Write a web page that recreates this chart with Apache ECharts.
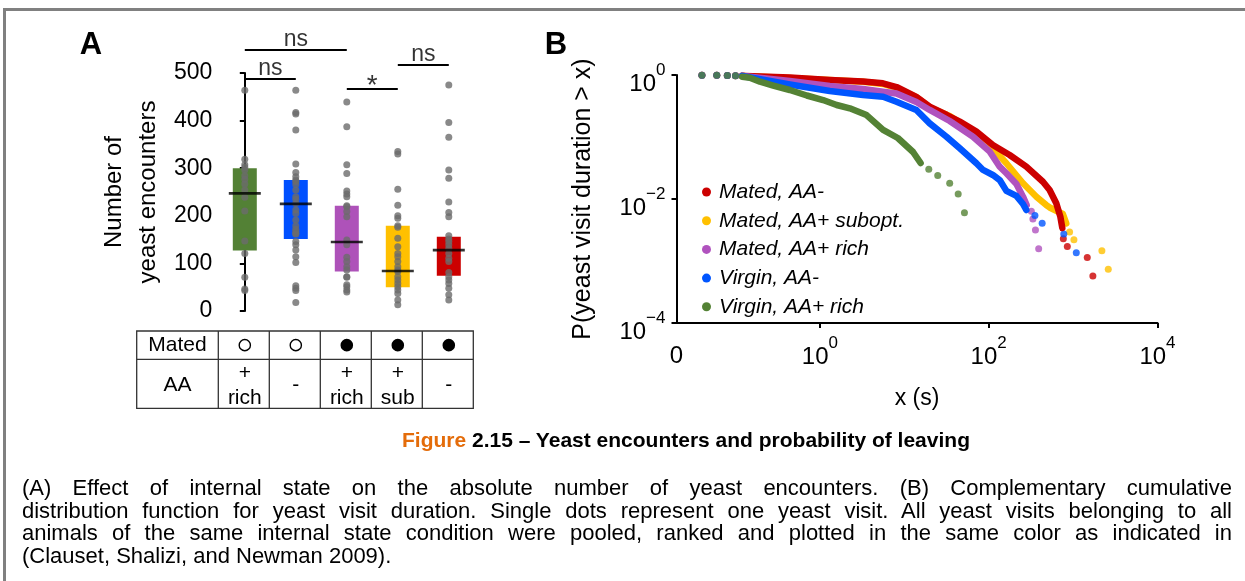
<!DOCTYPE html>
<html><head><meta charset="utf-8">
<script src="https://cdn.jsdelivr.net/npm/echarts@6/dist/echarts.min.js"></script>
<style>
html,body{margin:0;padding:0;background:#fff;}
body{width:1245px;height:581px;position:relative;overflow:hidden;font-family:"Liberation Sans",Arial,sans-serif;}
#frame{position:absolute;left:3px;top:8px;right:0;bottom:0;border-top:3px solid #808080;border-left:3px solid #808080;pointer-events:none;}
#chart{position:absolute;left:0;top:0;width:1245px;height:581px;}
#title{position:absolute;left:386px;width:600px;top:428px;text-align:center;font-weight:bold;font-size:21px;line-height:24px;color:#000;}
#title .fig{color:#E46C0A;}
#body{position:absolute;left:22px;top:477px;width:1210px;font-size:22px;line-height:22.6px;color:#000;}
#body div{text-align:justify;text-align-last:justify;}
#body div.last{text-align-last:left;}
</style></head>
<body>
<div id="chart"></div>
<div id="frame"></div>
<div id="title"><span class="fig">Figure</span> 2.15 – Yeast encounters and probability of leaving</div>
<div id="body">
<div>(A) Effect of internal state on the absolute number of yeast encounters. (B) Complementary cumulative</div>
<div>distribution function for yeast visit duration. Single dots represent one yeast visit. All yeast visits belonging to all</div>
<div>animals of the same internal state condition were pooled, ranked and plotted in the same color as indicated in</div>
<div class="last">(Clauset, Shalizi, and Newman 2009).</div>
</div>
<script>
// ---------- Panel A data ----------
const groups = ['Virgin, AA+ rich', 'Virgin, AA-', 'Mated, AA+ rich', 'Mated, AA+ subopt.', 'Mated, AA-'];
const boxLow = [127, 151, 83, 50, 74];
const boxHigh = [300, 275, 221, 179, 156];
const medians = [247, 225, 145, 84, 128];
const dotsVirginRich = [464, 319, 307, 302, 296, 284, 277, 267, 254, 239, 210, 147, 121, 71, 46, 43];
const dotsVirginMinus = [464, 417, 414, 380, 309, 291, 282, 275, 272, 266, 254, 240, 235, 226, 212, 205, 191, 179, 172, 167, 163, 162, 146, 139, 128, 114, 102, 53, 48, 43, 18];
const dotsMatedRich = [439, 387, 307, 289, 252, 246, 240, 221, 219, 209, 198, 149, 139, 113, 104, 93, 86, 72, 71, 55, 51, 44, 40];
const dotsMatedSub = [335, 330, 256, 222, 200, 195, 179, 176, 153, 135, 121, 114, 104, 93, 86, 83, 72, 65, 58, 51, 44, 37, 23, 13];
const dotsMatedMinus = [475, 396, 365, 296, 279, 229, 207, 198, 158, 151, 146, 139, 132, 121, 111, 104, 81, 72, 65, 58, 48, 34, 23];
const yTicksAInterval = 100;
const bracketFrom = [0, 0, 2, 3];
const bracketTo = [2, 1, 3, 4];
const bracketLevel = [548, 487, 466, 517];
const bracketText = ['ns', 'ns', '*', 'ns'];
const matedRow = [false, false, true, true, true];
const aaRow = ['+\nrich', '-', '+\nrich', '+\nsub', '-'];

// ---------- Panel B data (x in seconds, P = P(duration > x)) ----------
const headX = [0.04, 0.06, 0.08, 0.10];
const headP = [0.994, 0.988, 0.982, 0.976];

const redX = [0.12, 0.13, 0.44, 1.31, 3.25, 5.57, 8.08, 13.9, 20, 32, 45.4, 71.5, 112, 177, 279, 439, 527, 632, 706, 745];
const redP = [0.97, 0.965, 0.911, 0.83, 0.785, 0.735, 0.64, 0.442, 0.308, 0.226, 0.177, 0.122, 0.0743, 0.0513, 0.0332, 0.019, 0.014, 0.00853, 0.00519, 0.0034];
const redTailX = [766, 854, 1472, 1715];
const redTailP = [0.00229, 0.00171, 0.00114, 0.000571];

const yellowX = [0.12, 0.13, 0.44, 1.31, 3.25, 5.57, 8.08, 13.9, 20, 34.5, 71.5, 111, 162, 255, 367, 481, 527, 757, 830];
const yellowP = [0.97, 0.963, 0.895, 0.83, 0.78, 0.716, 0.62, 0.44, 0.3, 0.218, 0.116, 0.0665, 0.0377, 0.0179, 0.0109, 0.008, 0.0073, 0.00573, 0.00405];
const yellowTailX = [909, 1023, 2193, 2610];
const yellowTailP = [0.00294, 0.0022, 0.00147, 0.000735];

const purpleX = [0.12, 0.13, 0.44, 1.31, 3.25, 5.61, 8.08, 13.9, 20, 34.5, 65.2, 103, 135, 162, 213, 255, 282];
const purpleP = [0.97, 0.955, 0.80, 0.665, 0.595, 0.538, 0.503, 0.367, 0.273, 0.181, 0.101, 0.058, 0.0332, 0.026, 0.0175, 0.0109, 0.008];
const purpleTailX = [320, 334, 358, 391];
const purpleTailP = [0.00632, 0.00474, 0.00316, 0.00158];

const blueX = [0.12, 0.13, 0.44, 1.31, 3.25, 5.61, 8.08, 13.9, 20, 31.6, 45.4, 71.5, 85.7, 112, 135, 162, 213, 255, 279];
const blueP = [0.97, 0.946, 0.703, 0.552, 0.476, 0.447, 0.371, 0.273, 0.166, 0.101, 0.0657, 0.0377, 0.0294, 0.0244, 0.0202, 0.0135, 0.0112, 0.0083, 0.00665];
const blueTailX = [353, 430, 776, 1091];
const blueTailP = [0.00544, 0.00408, 0.00272, 0.00136];

const greenX = [0.12, 0.148, 0.195, 0.28, 0.44, 0.70, 1.09, 1.58, 2.26, 3.57, 5.61, 8.38, 12.7, 15.6];
const greenP = [0.94, 0.905, 0.78, 0.677, 0.573, 0.467, 0.395, 0.328, 0.29, 0.226, 0.13, 0.0964, 0.0573, 0.0381];
const greenTailX = [19.5, 24.9, 34.5, 43.5, 51.6];
const greenTailP = [0.0303, 0.0239, 0.0179, 0.012, 0.00601];

const xTicksB = [1, 100, 10000];
const yTicksB = [1e-4, 1e-2, 1];
const xMinB = 0.02, xMaxB = 10000, yMinB = 1e-4, yMaxB = 1;

// ---------- styles / layout ----------
const FF = '"Liberation Sans", Arial, sans-serif';
const colA = ['#538135', '#0050FF', '#AE52B9', '#FFC000', '#CC0000'];
const DOT = '#6B6B6B';
const A_LEFT = 219.3, A_TOP = 73, A_W = 255, A_H = 238;
const catW = A_W / groups.length;
const B_LEFT = 676.5, B_TOP = 75, B_W = 481, B_H = 248;

const chart = echarts.init(document.getElementById('chart'), null, {renderer: 'canvas'});

const dotSets = [dotsVirginRich, dotsVirginMinus, dotsMatedRich, dotsMatedSub, dotsMatedMinus];
const dotData = [];
dotSets.forEach((arr, i) => arr.forEach(v => dotData.push([i, v])));

function zip(xs, ps) { return xs.map((x, i) => [x, ps[i]]); }

const bSeriesDef = [
  {name: 'Mated, AA+ subopt.', color: '#FFC000', x: yellowX, p: yellowP, tx: yellowTailX, tp: yellowTailP},
  {name: 'Mated, AA-', color: '#CC0000', x: redX, p: redP, tx: redTailX, tp: redTailP},
  {name: 'Mated, AA+ rich', color: '#B052BE', x: purpleX, p: purpleP, tx: purpleTailX, tp: purpleTailP},
  {name: 'Virgin, AA-', color: '#0055FF', x: blueX, p: blueP, tx: blueTailX, tp: blueTailP},
  {name: 'Virgin, AA+ rich', color: '#548235', x: greenX, p: greenP, tx: greenTailX, tp: greenTailP}
];

const bLines = bSeriesDef.map(d => ({
  type: 'line', name: d.name, xAxisIndex: 2, yAxisIndex: 1,
  data: zip(d.x, d.p), showSymbol: false, symbol: 'none', silent: true,
  color: d.color,
  lineStyle: {color: d.color, width: 6.5, cap: 'round', join: 'round'},
  animation: false
}));
const bDots = bSeriesDef.map(d => ({
  type: 'scatter', name: d.name, xAxisIndex: 2, yAxisIndex: 1,
  data: zip(headX, headP).concat(zip(d.tx, d.tp)),
  symbolSize: 7, itemStyle: {color: d.color}, color: d.color, silent: true, animation: false
}));

function powLabel(v) {
  if (v < 0.05 && v > 0.01) return '{z|0}';
  const e = Math.round(Math.log10(v));
  return '{b|10}{s|' + (e < 0 ? '\u2212' + (-e) : e) + '}';
}
const powRich = {
  b: {fontSize: 24, lineHeight: 24, verticalAlign: 'bottom', fontFamily: FF, color: '#000'},
  s: {fontSize: 17, lineHeight: 34.5, verticalAlign: 'top', padding: [0, 0, 17.5, 0], fontFamily: FF, color: '#000'},
  z: {fontSize: 24, lineHeight: 34.5, padding: [10, 0, 0, 0], fontFamily: FF, color: '#000'}
};

const axisLineStyle = {show: true, lineStyle: {color: '#000', width: 2}};
const tickStyle = {show: true, length: 5, lineStyle: {color: '#000', width: 2}};

// table graphics
const T_LEFT = 136.7, T_TOP = 331, T_MID = 359.3, T_BOT = 408.3;
const colEdge = i => A_LEFT - 1 + i * catW;
const colMid = i => A_LEFT + (i + 0.5) * catW;
const tableEls = [];
tableEls.push({type: 'rect', shape: {x: T_LEFT, y: T_TOP, width: colEdge(5) - T_LEFT, height: T_BOT - T_TOP}, style: {fill: 'none', stroke: '#333', lineWidth: 1.3}});
tableEls.push({type: 'line', shape: {x1: T_LEFT, y1: T_MID, x2: colEdge(5), y2: T_MID}, style: {stroke: '#333', lineWidth: 1.3}});
for (let i = 0; i < 5; i++) {
  tableEls.push({type: 'line', shape: {x1: colEdge(i), y1: T_TOP, x2: colEdge(i), y2: T_BOT}, style: {stroke: '#333', lineWidth: 1.3}});
  tableEls.push({type: 'circle', shape: {cx: colMid(i), cy: (T_TOP + T_MID) / 2, r: matedRow[i] ? 6.3 : 5.6},
    style: matedRow[i] ? {fill: '#000'} : {fill: '#fff', stroke: '#000', lineWidth: 1.4}});
  tableEls.push({type: 'text', x: colMid(i), y: (T_MID + T_BOT) / 2 + 1.5,
    style: {text: aaRow[i], fontSize: 21, fontFamily: FF, lineHeight: 25, align: 'center', verticalAlign: 'middle', fill: '#000'}});
}
tableEls.push({type: 'text', x: (T_LEFT + colEdge(0)) / 2, y: (T_TOP + T_MID) / 2, style: {text: 'Mated', fontSize: 21, fontFamily: FF, align: 'center', verticalAlign: 'middle', fill: '#000'}});
tableEls.push({type: 'text', x: (T_LEFT + colEdge(0)) / 2, y: (T_MID + T_BOT) / 2 + 1.5, style: {text: 'AA', fontSize: 21, fontFamily: FF, align: 'center', verticalAlign: 'middle', fill: '#000'}});

const option = {
  animation: false,
  backgroundColor: 'transparent',
  textStyle: {fontFamily: FF},
  grid: [
    {left: A_LEFT, top: A_TOP, width: A_W, height: A_H},
    {left: B_LEFT, top: B_TOP, width: B_W, height: B_H}
  ],
  legend: {
    data: ['Mated, AA-', 'Mated, AA+ subopt.', 'Mated, AA+ rich', 'Virgin, AA-', 'Virgin, AA+ rich'],
    orient: 'vertical', left: 697, top: 176, icon: 'circle',
    itemWidth: 9, itemHeight: 9, itemGap: 6.7, selectedMode: false,
    textStyle: {fontSize: 21, fontStyle: 'italic', color: '#000', fontFamily: FF, lineHeight: 22, padding: [0, 0, 0, 3]}
  },
  xAxis: [
    {gridIndex: 0, type: 'category', data: groups, boundaryGap: true,
      axisLine: {show: false}, axisTick: {show: false}, axisLabel: {show: false}, splitLine: {show: false}},
    {gridIndex: 0, type: 'value', min: -0.5, max: 4.5, show: false},
    {gridIndex: 1, type: 'log', logBase: 10, min: xMinB, max: xMaxB,
      axisLine: axisLineStyle, splitLine: {show: false},
      axisTick: Object.assign({}, tickStyle, {customValues: xTicksB}),
      axisLabel: {customValues: [xMinB * 1.0001].concat(xTicksB.slice(0, 2), [xMaxB * 0.9999]), formatter: powLabel, rich: powRich, margin: 11.5, color: '#000'},
      name: 'x (s)', nameLocation: 'middle', nameGap: 64,
      nameTextStyle: {fontSize: 23, color: '#000', fontFamily: FF}}
  ],
  yAxis: [
    {gridIndex: 0, type: 'value', min: 0, max: 500, interval: yTicksAInterval,
      axisLine: axisLineStyle, axisTick: tickStyle, splitLine: {show: false},
      axisLabel: {fontSize: 23, color: '#000', margin: 7, fontFamily: FF},
      name: 'Number of\nyeast encounters', nameLocation: 'middle', nameGap: 54,
      nameTextStyle: {fontSize: 24, lineHeight: 34, color: '#000', fontFamily: FF}},
    {gridIndex: 1, type: 'log', logBase: 10, min: yMinB, max: yMaxB,
      axisLine: axisLineStyle, splitLine: {show: false},
      axisTick: Object.assign({}, tickStyle, {customValues: [yMinB * 1.0001, yTicksB[1], yMaxB * 0.9999]}),
      axisLabel: {customValues: [yMinB * 1.0001, yTicksB[1], yMaxB * 0.9999], formatter: powLabel, rich: powRich, margin: 11, padding: [9, 0, 0, 0], color: '#000'},
      name: 'P(yeast visit duration > x)', nameLocation: 'middle', nameGap: 80.5,
      nameTextStyle: {fontSize: 25, color: '#000', fontFamily: FF}}
  ],
  graphic: [
    {type: 'text', x: 91, y: 45.5, style: {text: 'A', fontSize: 31, fontWeight: 'bold', fontFamily: FF, align: 'center', verticalAlign: 'middle', fill: '#000'}},
    {type: 'text', x: 556, y: 45.5, style: {text: 'B', fontSize: 31, fontWeight: 'bold', fontFamily: FF, align: 'center', verticalAlign: 'middle', fill: '#000'}},
    {type: 'group', children: tableEls}
  ],
  series: [
    {type: 'bar', name: 'base', stack: 'box', xAxisIndex: 0, yAxisIndex: 0, data: boxLow, barWidth: 24,
      itemStyle: {color: 'transparent'}, silent: true},
    {type: 'bar', name: 'iqr', stack: 'box', xAxisIndex: 0, yAxisIndex: 0, barWidth: 24, silent: true,
      data: boxHigh.map((h, i) => ({value: h - boxLow[i], itemStyle: {color: colA[i]}}))},
    {type: 'scatter', name: 'dots', xAxisIndex: 0, yAxisIndex: 0, data: dotData, symbolSize: 7,
      itemStyle: {color: DOT}, silent: true},
    {type: 'scatter', name: 'median', xAxisIndex: 0, yAxisIndex: 0, data: medians.map((m, i) => [i, m]),
      symbol: 'rect', symbolSize: [32, 2.7], itemStyle: {color: '#000'}, silent: true, z: 5},
    {type: 'lines', name: 'brackets', coordinateSystem: 'cartesian2d', xAxisIndex: 1, yAxisIndex: 0, clip: false,
      data: bracketFrom.map((f, i) => ({coords: [[f, bracketLevel[i]], [bracketTo[i], bracketLevel[i]]]})),
      lineStyle: {color: '#000', width: 2, opacity: 1}, silent: true},
    {type: 'scatter', name: 'bracketLabels', xAxisIndex: 1, yAxisIndex: 0, clip: false, symbolSize: 0,
      data: bracketText.map((t, i) => ({value: [(bracketFrom[i] + bracketTo[i]) / 2, bracketLevel[i]],
        label: t === '*' ? {fontSize: 28, offset: [0, 10], formatter: t} : {formatter: t}})),
      label: {show: true, position: 'top', distance: -1, fontSize: 23, color: '#000', fontFamily: FF},
      silent: true}
  ].concat(bLines, bDots)
};
chart.setOption(option);
</script>
</body></html>
